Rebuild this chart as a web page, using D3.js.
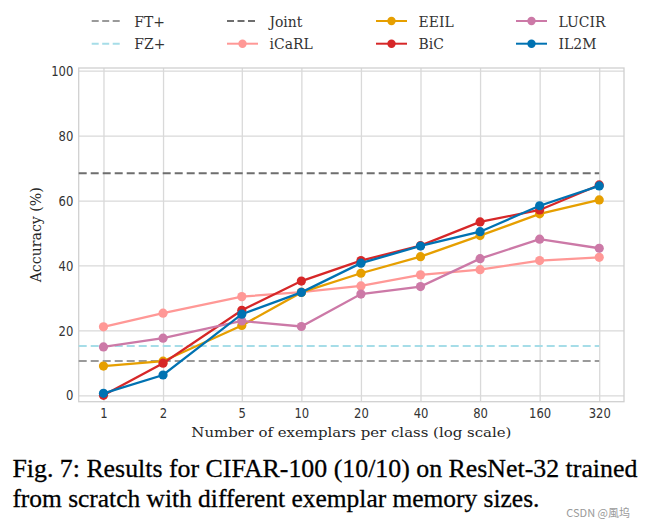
<!DOCTYPE html>
<html><head><meta charset="utf-8">
<script src="https://cdn.jsdelivr.net/npm/d3@7"></script>
<style>body{margin:0;background:#fff} svg{display:block}</style>
</head><body>
<svg id="c" width="646" height="529"></svg>
<script>
// ---------------- data ----------------
const exemplars = [1, 2, 5, 10, 20, 40, 80, 160, 320];
const xTickLabels = ["1", "2", "5", "10", "20", "40", "80", "160", "320"];
const yTicks = [0, 20, 40, 60, 80, 100];
const baselineNames = ["FT+", "FZ+", "Joint"];
const baselineValues = [10.6, 15.2, 68.4];
const seriesNames = ["iCaRL", "EEIL", "BiC", "LUCIR", "IL2M"];
const iCaRL = [21.1, 25.3, 30.4, 31.8, 33.7, 37.1, 38.7, 41.5, 42.5];
const EEIL  = [9.0, 10.5, 21.5, 31.7, 37.6, 42.7, 49.2, 55.9, 60.2];
const BiC   = [0.0, 9.9, 26.2, 35.2, 41.5, 46.1, 53.4, 57.1, 64.8];
const LUCIR = [14.9, 17.6, 22.9, 21.2, 31.2, 33.5, 42.1, 48.1, 45.3];
const IL2M  = [0.6, 6.25, 25.0, 31.7, 40.7, 46.0, 50.4, 58.4, 64.5];
const seriesValues = [iCaRL, EEIL, BiC, LUCIR, IL2M];
const xLabel = "Number of exemplars per class (log scale)";
const yLabel = "Accuracy (%)";
const captionLines = ["Fig. 7: Results for CIFAR-100 (10/10) on ResNet-32 trained",
                      "from scratch with different exemplar memory sizes."];
const watermark = "CSDN @風坞";

// ---------------- styles ----------------
const baselineColors = {"FT+": "#9a9a9a", "FZ+": "#a6dde8", "Joint": "#6e6e6e"};
const seriesColors = {"iCaRL": "#ff9896", "EEIL": "#e69f00", "BiC": "#d62728", "LUCIR": "#cc79a7", "IL2M": "#0072b2"};

const svg = d3.select("#c");
const L = 78.7, R = 624, T = 68, B = 401.7;
const pad = 0.416;
const x = d3.scaleLog().base(2).domain([Math.pow(2, -pad), 320 * Math.pow(2, pad)]).range([L, R]);
const y = d3.scaleLinear().domain([-1.97, 100.83]).range([B, T]);

// grid
const gx = svg.append("g").attr("transform", `translate(0,${B})`)
  .call(d3.axisBottom(x).tickValues(exemplars).tickSize(-(B - T)).tickFormat(""));
gx.select(".domain").remove();
gx.selectAll("line").attr("stroke", "#d9d9d9").attr("stroke-width", 1.3);
const gy = svg.append("g").attr("transform", `translate(${L},0)`)
  .call(d3.axisLeft(y).tickValues(yTicks).tickSize(-(R - L)).tickFormat(""));
gy.select(".domain").remove();
gy.selectAll("line").attr("stroke", "#d9d9d9").attr("stroke-width", 1.3);

// frame
svg.append("rect").attr("x", L).attr("y", T).attr("width", R - L).attr("height", B - T)
  .attr("fill", "none").attr("stroke", "#d0d0d0").attr("stroke-width", 1.3);

// tick labels
const ax = svg.append("g").attr("transform", `translate(0,${B})`)
  .call(d3.axisBottom(x).tickValues(exemplars).tickSize(0).tickPadding(6.5)
    .tickFormat((d, i) => xTickLabels[i]));
ax.select(".domain").remove();
ax.selectAll("text").attr("font-family", "DejaVu Sans").attr("font-size", 14.5).attr("fill", "#333")
  .style("transform-box", "fill-box").style("transform-origin", "center").style("transform", "scaleX(0.8)");
const ay = svg.append("g").attr("transform", `translate(${L},0)`)
  .call(d3.axisLeft(y).tickValues(yTicks).tickSize(0).tickPadding(5.4));
ay.select(".domain").remove();
ay.selectAll("text").attr("font-family", "DejaVu Sans").attr("font-size", 14.5).attr("fill", "#333")
  .style("transform-box", "fill-box").style("transform-origin", "right center").style("transform", "scaleX(0.8)");

// axis labels
svg.append("text").attr("x", (L + R) / 2).attr("y", 436.7).attr("text-anchor", "middle")
  .attr("font-family", "DejaVu Serif").attr("font-size", 12.8).attr("fill", "#262626")
  .attr("textLength", 320).attr("lengthAdjust", "spacingAndGlyphs").text(xLabel);
svg.append("text").attr("transform", `translate(41,${(T + B) / 2}) rotate(-90)`).attr("text-anchor", "middle")
  .attr("font-family", "DejaVu Serif").attr("font-size", 14).attr("fill", "#262626")
  .attr("textLength", 95).attr("lengthAdjust", "spacingAndGlyphs").text(yLabel);

// baselines
const plot = svg.append("g");
baselineNames.forEach((n, i) => {
  plot.append("line").attr("x1", L).attr("x2", x(320))
    .attr("y1", y(baselineValues[i])).attr("y2", y(baselineValues[i]))
    .attr("stroke", baselineColors[n]).attr("stroke-width", 2).attr("stroke-dasharray", "8,4");
});

// series
const line = d3.line().x((d, i) => x(exemplars[i])).y(d => y(d));
seriesNames.forEach((n, k) => {
  const vals = seriesValues[k];
  plot.append("path").attr("d", line(vals)).attr("fill", "none")
    .attr("stroke", seriesColors[n]).attr("stroke-width", 2.3);
  plot.selectAll(null).data(vals).enter().append("circle")
    .attr("cx", (d, i) => x(exemplars[i])).attr("cy", d => y(d)).attr("r", 4.6)
    .attr("fill", seriesColors[n]);
});

// legend (column-major)
const legendItems = ["FT+", "FZ+", "Joint", "iCaRL", "EEIL", "BiC", "LUCIR", "IL2M"];
const colX = [91.7, 227, 376, 516];
const rowY = [21, 43.7];
const lg = svg.append("g");
legendItems.forEach((n, i) => {
  const c = Math.floor(i / 2), r = i % 2;
  const x0 = colX[c], yy = rowY[r];
  const isBase = baselineNames.includes(n);
  const col = isBase ? baselineColors[n] : seriesColors[n];
  lg.append("line").attr("x1", x0).attr("x2", x0 + 31).attr("y1", yy).attr("y2", yy)
    .attr("stroke", col).attr("stroke-width", 2)
    .attr("stroke-dasharray", isBase ? "7,3.5" : null);
  if (!isBase) lg.append("circle").attr("cx", x0 + 15.5).attr("cy", yy).attr("r", 4.2).attr("fill", col);
  lg.append("text").attr("x", x0 + 42.6).attr("y", yy).attr("dy", "0.36em")
    .attr("font-family", "DejaVu Serif").attr("font-size", 15.5).attr("fill", "#333")
    .style("transform-box", "fill-box").style("transform-origin", "left center").style("transform", "scaleX(0.9)")
    .text(n);
});

// caption
const capW = [625, 527];
captionLines.forEach((t, i) => {
  svg.append("text").attr("x", 12.4).attr("y", 476.7 + i * 30)
    .attr("font-family", "Liberation Serif").attr("font-size", 26).attr("fill", "#000")
    .attr("stroke", "#000").attr("stroke-width", 0.3)
    .attr("textLength", capW[i]).attr("lengthAdjust", "spacingAndGlyphs").text(t);
});

// watermark
svg.append("text").attr("x", 630).attr("y", 517).attr("text-anchor", "end")
  .attr("font-family", "Noto Sans CJK SC").attr("font-size", 11).attr("fill", "#9a9a9a").text(watermark);
</script>
</body></html>
